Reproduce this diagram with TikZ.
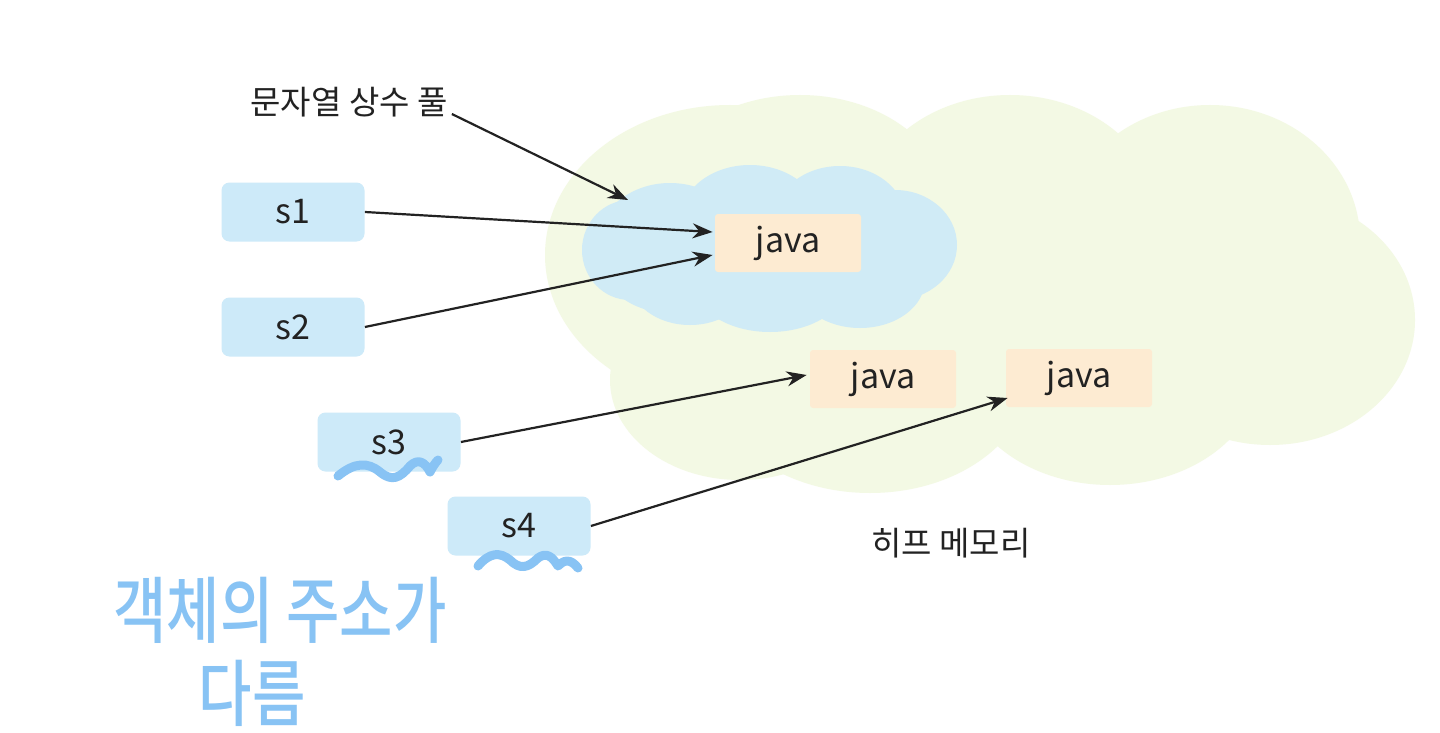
\documentclass[tikz,border=0pt]{standalone}
\usepackage{fontspec}
\setmainfont{Noto Sans CJK KR}
\newfontfamily\hand{Noto Sans CJK KR Medium}
\usetikzlibrary{arrows.meta,calc}
\definecolor{heapc}{HTML}{F3F9E4}
\definecolor{poolc}{HTML}{D0EBF6}
\definecolor{varc}{HTML}{CDEAF9}
\definecolor{objc}{HTML}{FDEBD2}
\definecolor{inkc}{HTML}{222222}
\definecolor{handc}{HTML}{88C3F4}
\tikzset{
  varbox/.style={fill=varc, rounded corners=4pt, minimum width=71.5pt, minimum height=29.5pt, inner sep=0pt, font=\fontsize{17}{20}\selectfont, text=inkc},
  objbox/.style={fill=objc, rounded corners=1.5pt, minimum width=73pt, minimum height=29pt, inner sep=0pt, font=\fontsize{17}{20}\selectfont, text=inkc},
  ref/.style={draw=inkc, line width=1.1pt, -{Stealth[length=10pt,width=7.5pt]}},
  lbl/.style={font=\fontsize{16.5}{19}\selectfont, text=inkc, inner sep=0pt},
  wave/.style={draw=handc, line width=4.5pt, line cap=round, line join=round},
  handtxt/.style={font=\hand\fontsize{29}{34}\selectfont, text=handc, inner sep=0pt}
}
\begin{document}
\begin{tikzpicture}[x=0.5pt,y=-0.5pt]
\useasboundingbox[fill=white] (0,0) rectangle (1440,733);
% heap cloud
\fill[heapc] (730,255) ellipse (185 and 150);
\fill[heapc] (800,210) ellipse (150 and 115);
\fill[heapc] (1010,220) ellipse (150 and 125);
\fill[heapc] (1210,240) ellipse (150 and 135);
\fill[heapc] (1270,320) ellipse (145 and 125);
\fill[heapc] (1110,370) ellipse (150 and 115);
\fill[heapc] (870,375) ellipse (160 and 118);
\fill[heapc] (740,380) ellipse (130 and 100);
\fill[heapc] (700,200) rectangle (1300,420);
% string pool cloud
\fill[poolc] (670,248) ellipse (75 and 65);
\fill[poolc] (750,220) ellipse (70 and 55);
\fill[poolc] (840,218) ellipse (65 and 52);
\fill[poolc] (895,245) ellipse (62 and 55);
\fill[poolc] (860,280) ellipse (65 and 48);
\fill[poolc] (770,285) ellipse (75 and 47);
\fill[poolc] (690,280) ellipse (60 and 45);
\fill[poolc] (630,250) ellipse (48 and 50);
% objects
\node[objbox] (j1) at (788,243) {java};
\node[objbox] (j2) at (883,379) {java};
\node[objbox] (j3) at (1079,378) {java};
% variables
\node[varbox] (s1) at (293,212) {s1};
\node[varbox] (s2) at (293,327) {s2};
\node[varbox] (s3) at (389,442) {s3};
\node[varbox] (s4) at (519,526) {s4};
% labels
\node[lbl] (pool) at (349,102) {문자열 상수 풀};
\node[lbl] (heap) at (951,543) {히프 메모리};
\coordinate (poolpt) at (628,200);
% arrows
\draw[ref] ($(pool.east)+(4,12)$) -- (poolpt);
\draw[ref] (s1.east) -- ($(j1.west)+(-2,-11)$);
\draw[ref] (s2.east) -- ($(j1.west)+(-2,12)$);
\draw[ref] (s3.east) -- ($(j2.west)+(-3,-4)$);
\draw[ref] (s4.east) -- ($(j3.west)+(2,20)$);
% handwritten annotations
\draw[wave] (338,476) .. controls (355,462) and (368,462) .. (380,472)
  .. controls (392,482) and (400,478) .. (410,466)
  .. controls (418,458) and (425,462) .. (430,472)
  .. controls (433,466) and (436,462) .. (438,460);
\draw[wave] (478,566) .. controls (490,552) and (500,552) .. (510,560)
  .. controls (520,570) and (528,568) .. (538,558)
  .. controls (546,552) and (552,556) .. (558,566)
  .. controls (564,560) and (570,558) .. (578,568);
\node[handtxt] (hand1) at (280,610) {\scalebox{1}[1.25]{객체의 주소가}};
\node[handtxt] (hand2) at (252,693) {\scalebox{1}[1.25]{다름}};
\end{tikzpicture}
\end{document}
